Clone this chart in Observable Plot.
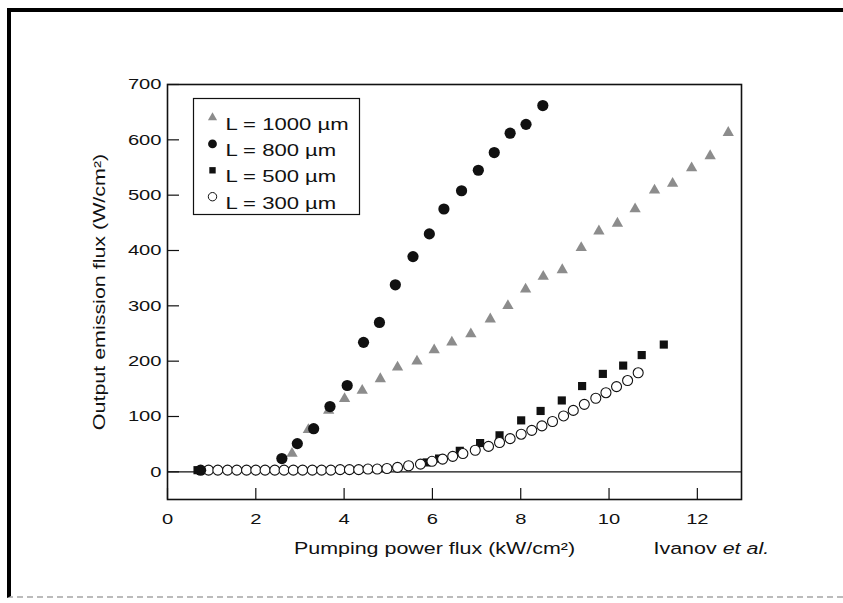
<!DOCTYPE html>
<html><head><meta charset="utf-8">
<script src="https://cdn.jsdelivr.net/npm/d3@7"></script>
<script src="https://cdn.jsdelivr.net/npm/@observablehq/plot@0.6"></script>
<style>
html,body{margin:0;padding:0;background:#fff;}
#wrap{position:relative;width:843px;height:603px;overflow:hidden;}
#border{position:absolute;left:7px;top:8px;width:836px;height:590px;border-top:4px solid #000;border-left:4px solid #000;border-bottom:2px dashed #bbb;box-sizing:border-box;}
#chart{position:absolute;left:0;top:0;}
</style></head><body>
<div id="wrap"><div id="border"></div><div id="chart"></div></div>
<script>
// ---- data ----
const xTicks = [0, 2, 4, 6, 8, 10, 12];
const yTicks = [0, 100, 200, 300, 400, 500, 600, 700];
const seriesLabels = ["L = 1000 µm", "L = 800 µm", "L = 500 µm", "L = 300 µm"];

const x1000 = [2.82, 3.19, 3.65, 4.01, 4.41, 4.82, 5.21, 5.65, 6.04, 6.44, 6.87, 7.31, 7.71, 8.11, 8.51, 8.94, 9.37, 9.77, 10.19, 10.59, 11.03, 11.44, 11.87, 12.29, 12.70];
const y1000 = [33, 76, 111, 132, 147, 168, 189, 200, 220, 234, 249, 276, 300, 330, 353, 365, 405, 435, 449, 475, 509, 521, 549, 571, 613];

const x800 = [0.75, 2.59, 2.94, 3.31, 3.68, 4.07, 4.44, 4.80, 5.16, 5.56, 5.93, 6.26, 6.66, 7.04, 7.40, 7.76, 8.12, 8.50];
const y800 = [3, 24, 51, 78, 118, 156, 234, 270, 338, 389, 430, 475, 508, 545, 577, 612, 628, 662];

const x500 = [0.68, 5.87, 6.15, 6.62, 7.08, 7.52, 8.01, 8.45, 8.93, 9.39, 9.86, 10.32, 10.74, 11.24];
const y500 = [3, 17, 24, 38, 52, 66, 93, 110, 129, 155, 177, 192, 211, 230];

const x300 = [0.93, 1.14, 1.36, 1.57, 1.79, 2.00, 2.21, 2.43, 2.64, 2.85, 3.06, 3.28, 3.49, 3.70, 3.91, 4.12, 4.33, 4.54, 4.75, 4.97, 5.21, 5.46, 5.73, 5.99, 6.23, 6.46, 6.69, 6.97, 7.27, 7.52, 7.76, 8.01, 8.25, 8.48, 8.72, 8.97, 9.19, 9.44, 9.70, 9.93, 10.17, 10.42, 10.66];
const y300 = [3, 3, 3, 3, 3, 3, 3, 3, 3, 3, 3, 3, 3, 3, 4, 4, 4, 5, 5, 6, 8, 11, 14, 19, 23, 28, 33, 39, 46, 53, 60, 68, 75, 83, 91, 101, 111, 122, 133, 143, 154, 165, 179];

const xTitle = "Pumping power flux (kW/cm²)";
const yTitle = "Output emission flux (W/cm²)";
const credit = "Ivanov et al.";

// ---- build ----
const toRows = (xs, ys) => xs.map((x, i) => ({x, y: ys[i]}));
const d1000 = toRows(x1000, y1000);
const d800 = toRows(x800, y800);
const d500 = toRows(x500, y500);
const d300 = toRows(x300, y300);

const ink = "#111";
const grey = "#8c8c8c";
const styles = [
  {symbol: "triangle", fill: grey, stroke: "none", r: 4.2, lr: 3.4},
  {symbol: "circle", fill: ink, stroke: "none", r: 5.6, lr: 4.4},
  {symbol: "square", fill: ink, stroke: "none", r: 4.6, lr: 3.6},
  {symbol: "circle", fill: "white", stroke: ink, r: 5.0, lr: 4.2}
];

const legendMarks = [];
seriesLabels.forEach((lab, i) => {
  const s = styles[i];
  const dy = 33 + i * 26.4;
  legendMarks.push(Plot.dot([lab], {frameAnchor: "top-left", dx: 45, dy, symbol: s.symbol, fill: s.fill, stroke: s.stroke, strokeWidth: 1, r: s.lr}));
  legendMarks.push(Plot.text([lab], {frameAnchor: "top-left", dx: 58, dy, text: d => d, textAnchor: "start", fontSize: 17, fill: ink}));
});

const chart = Plot.plot({
  width: 843,
  height: 603,
  marginLeft: 167,
  marginRight: 102,
  marginTop: 84,
  marginBottom: 104,
  style: {background: "transparent", fontFamily: "'Liberation Sans', Arial, Helvetica, sans-serif", color: ink},
  x: {domain: [0, 13]},
  y: {domain: [-50, 700]},
  marks: [
    Plot.ruleY([0], {stroke: ink, strokeWidth: 1.2}),
    Plot.axisX(xTicks, {tickSize: -11, tickFormat: () => "", label: null, stroke: ink, strokeWidth: 1.2}),
    Plot.axisX(xTicks, {tickSize: 0, tickPadding: 13, label: null, fontSize: 15.5, fill: ink}),
    Plot.axisY(yTicks, {tickSize: -12, tickFormat: () => "", label: null, stroke: ink, strokeWidth: 1.2}),
    Plot.axisY(yTicks, {tickSize: 0, tickPadding: 6, label: null, fontSize: 15.5, fill: ink}),
    Plot.dot(d500, {x: "x", y: "y", symbol: "square", fill: ink, r: styles[2].r}),
    Plot.dot(d300, {x: "x", y: "y", symbol: "circle", fill: "white", stroke: ink, strokeWidth: 1.1, r: styles[3].r}),
    Plot.dot(d1000, {x: "x", y: "y", symbol: "triangle", fill: grey, r: styles[0].r}),
    Plot.dot(d800, {x: "x", y: "y", symbol: "circle", fill: ink, r: styles[1].r}),
    Plot.frame({stroke: ink, strokeWidth: 1.6}),
    Plot.frame({stroke: ink, strokeWidth: 1.2, insetLeft: 26, insetTop: 14, insetRight: 382, insetBottom: 285}),
    ...legendMarks,
    Plot.text([xTitle], {frameAnchor: "bottom", dx: -20, dy: 54, text: d => d, textAnchor: "middle", fontSize: 16.5, fill: ink}),
    Plot.text([credit], {frameAnchor: "bottom-right", dx: -88, dy: 54, text: d => d, textAnchor: "start", fontSize: 16.5, fill: ink}),
    Plot.text([yTitle], {frameAnchor: "left", dx: -68, rotate: -90, text: d => d, textAnchor: "middle", fontSize: 16.5, fill: ink})
  ]
});

// horizontally widen glyphs along their baseline, as in the scanned figure
chart.querySelectorAll("text").forEach(t => {
  const tr = t.getAttribute("transform");
  if (tr) t.setAttribute("transform", tr + " scale(1.3,1)");
  if (t.textContent === credit) {
    t.textContent = "";
    const sel = d3.select(t);
    sel.append("tspan").text("Ivanov ");
    sel.append("tspan").attr("font-style", "italic").text("et al.");
  }
});

document.getElementById("chart").appendChild(chart);
</script>
</body></html>
